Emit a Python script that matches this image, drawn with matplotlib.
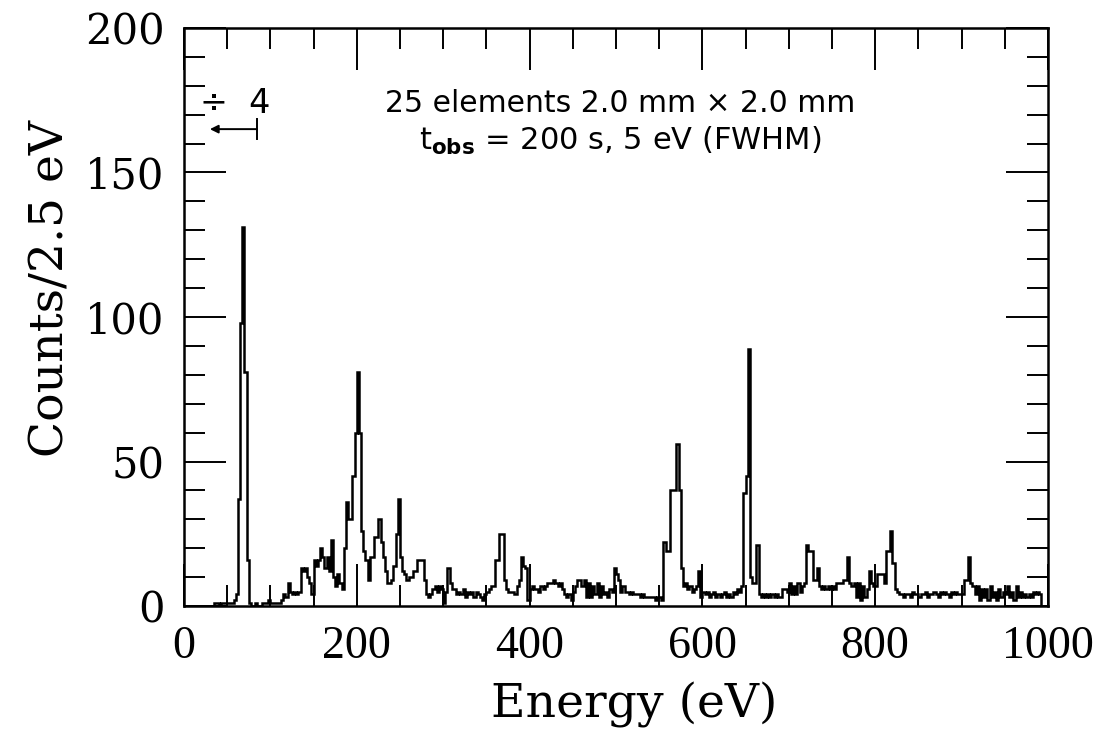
import matplotlib.pyplot as plt
import numpy as np

# spectrum, 2.5 eV bins, one row = 50 eV
counts = [
    0, 0, 0, 0, 0, 0, 0, 0, 0, 0, 0, 0, 0, 0, 1, 1, 0, 1, 1, 1,
    1, 1, 1, 2, 4, 37, 98, 131, 81, 16, 1, 0, 0, 1, 0, 0, 1, 1, 1, 2,
    1, 1, 1, 1, 1, 2, 4, 3, 8, 5, 4, 5, 4, 5, 13, 12, 13, 10, 8, 4,
    16, 14, 16, 20, 17, 13, 17, 12, 23, 10, 7, 11, 8, 6, 20, 36, 30, 30, 45, 60,
    81, 60, 26, 19, 16, 9, 17, 17, 24, 24, 30, 22, 17, 12, 8, 8, 9, 14, 25, 37,
    17, 12, 11, 9, 10, 10, 12, 12, 16, 16, 16, 9, 4, 3, 4, 6, 7, 5, 7, 6,
    1, 5, 13, 8, 6, 6, 4, 5, 4, 6, 3, 5, 4, 5, 3, 5, 4, 3, 2, 4,
    5, 6, 7, 7, 16, 16, 25, 25, 9, 6, 5, 5, 5, 4, 7, 9, 17, 14, 13, 2,
    6, 7, 6, 6, 5, 7, 6, 7, 8, 8, 8, 9, 8, 7, 8, 6, 4, 3, 4, 2,
    5, 7, 9, 9, 7, 9, 3, 8, 3, 7, 4, 8, 3, 7, 4, 5, 3, 6, 5, 13,
    11, 9, 5, 7, 5, 5, 4, 5, 4, 4, 4, 3, 4, 3, 3, 3, 3, 3, 2, 3,
    3, 2, 22, 19, 19, 40, 40, 40, 56, 40, 13, 7, 8, 6, 7, 5, 6, 7, 12, 3,
    5, 4, 5, 3, 4, 5, 3, 4, 3, 4, 5, 3, 4, 3, 5, 4, 6, 5, 7, 39,
    45, 89, 10, 8, 8, 21, 4, 3, 4, 3, 4, 3, 4, 3, 4, 3, 3, 6, 6, 5,
    8, 4, 7, 4, 8, 5, 7, 8, 21, 19, 19, 9, 9, 13, 7, 6, 7, 6, 7, 6,
    7, 6, 8, 8, 8, 9, 9, 17, 8, 7, 8, 3, 8, 2, 7, 3, 6, 12, 8, 7,
    7, 11, 11, 11, 8, 19, 19, 26, 15, 6, 5, 4, 4, 3, 4, 4, 3, 5, 4, 4,
    3, 4, 4, 5, 3, 4, 4, 5, 4, 3, 5, 4, 5, 4, 3, 5, 4, 5, 4, 4,
    4, 9, 9, 17, 8, 7, 4, 7, 2, 6, 3, 6, 2, 7, 3, 5, 2, 6, 3, 5,
    4, 7, 3, 5, 2, 7, 3, 5, 3, 4, 3, 4, 3, 5, 4, 5, 4,
]
bin_width = 2.5
edges = np.arange(len(counts) + 1) * bin_width

fig = plt.figure(figsize=(10.97, 7.36), dpi=100)
ax = fig.add_axes([0.1677, 0.1766, 0.7876, 0.7854])

ax.stairs(counts, edges, color='black', linewidth=1.8)

ax.set_xlim(0, 1000)
ax.set_ylim(0, 200)
ax.set_xticks([0, 200, 400, 600, 800, 1000])
ax.set_xticks(np.arange(0, 1001, 50), minor=True)
ax.set_yticks([0, 50, 100, 150, 200])
ax.set_yticks(np.arange(0, 201, 10), minor=True)
ax.tick_params(which='both', direction='in', top=True, right=True, width=1.4)
ax.tick_params(which='major', length=30)
ax.tick_params(which='minor', length=15)
ax.tick_params(axis='x', pad=14, labelsize=33)
ax.tick_params(axis='y', pad=14, labelsize=30)
for lab in ax.get_xticklabels():
    lab.set_family('Liberation Serif')
for lab in ax.get_yticklabels():
    lab.set_family('DejaVu Serif')
for sp in ax.spines.values():
    sp.set_linewidth(1.8)

ax.set_xlabel('Energy (eV)', family='DejaVu Serif', fontsize=34, labelpad=10)
ax.xaxis.label.set_x(0.521)
ax.set_ylabel('Counts/2.5 eV', family='DejaVu Serif', fontsize=34)
ax.yaxis.set_label_coords(-0.128, 0.55)

ax.text(0.505, 0.87, '25 elements 2.0 mm \u00d7 2.0 mm', transform=ax.transAxes,
        ha='center', va='center', fontsize=21.5, family='DejaVu Sans')
ax.text(0.505, 0.805, r't$_{\bf obs}$ = 200 s, 5 eV (FWHM)', transform=ax.transAxes,
        ha='center', va='center', fontsize=22, family='DejaVu Sans')

# divided-by-four marker for the first peak
ax.text(18, 174, '\u00f7  4', ha='left', va='center', fontsize=24, family='DejaVu Sans')
ax.annotate('', xy=(30, 165), xytext=(84, 165),
            arrowprops=dict(arrowstyle='-|>', color='black', lw=1.4,
                            shrinkA=0, shrinkB=0, mutation_scale=12))
ax.plot([84, 84], [161.5, 168.5], color='black', lw=1.4)

fig.savefig('out.png', dpi=100)
